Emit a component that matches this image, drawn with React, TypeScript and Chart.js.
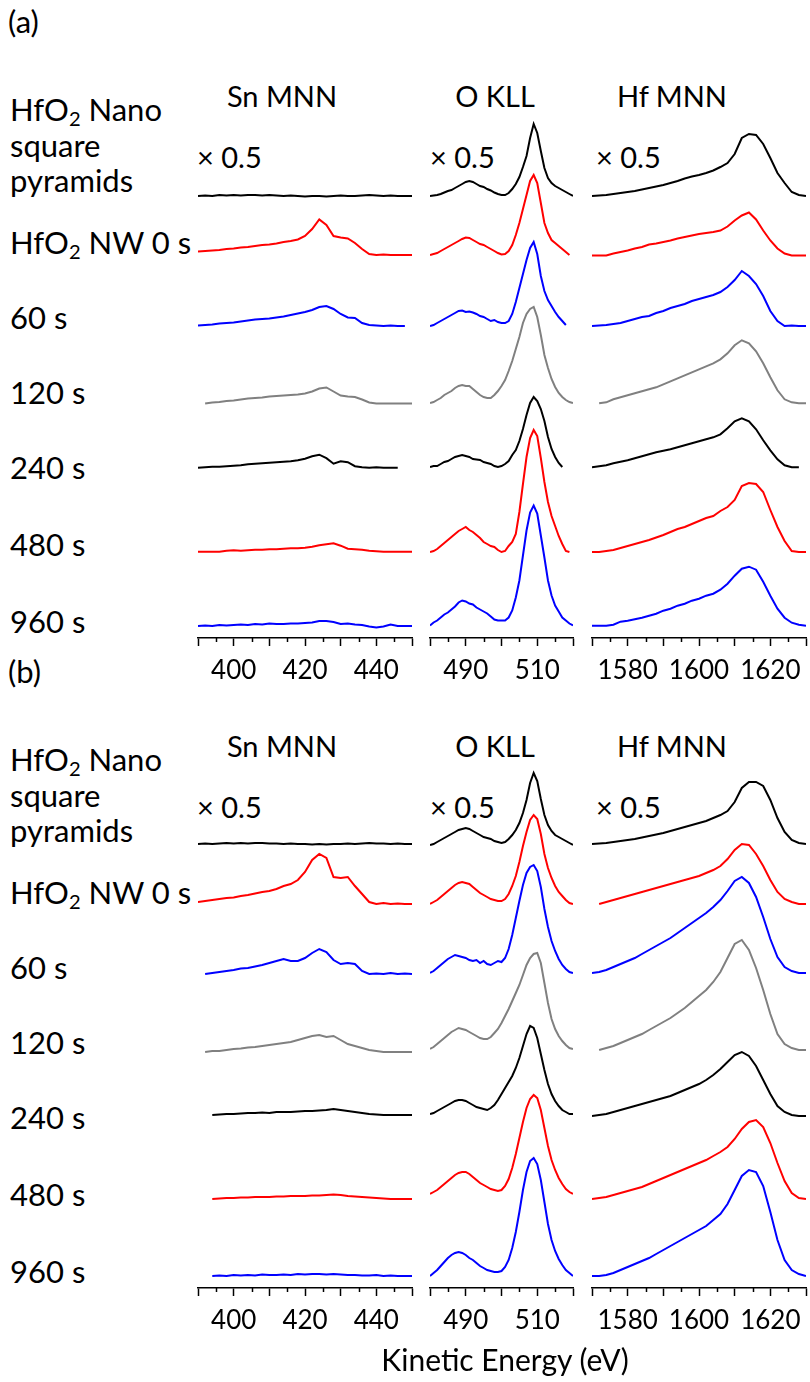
import React, { useEffect, useRef } from "react";
import { Chart, registerables } from "chart.js";
Chart.register(...registerables);

const FONT = "Lato, 'Open Sans', sans-serif";

// ---------- energies (eV) ----------
const snEnergy = [390,392,394,396,398,400,402,404,406,408,410,412,414,416,418,420,422,424,426,428,430,432,434,436,438,440,442,444,446,448,450];
const oEnergy = [480,481,482,483,484,485,486,487,488,489,490,491,492,493,494,495,496,497,498,499,500,501,502,503,504,505,506,507,508,509,510,511,512,513,514,515,516,517,518,519,520];
const hfEnergy = [1570,1572,1574,1576,1578,1580,1582,1584,1586,1588,1590,1592,1594,1596,1598,1600,1602,1604,1606,1608,1610,1612,1614,1616,1618,1620,1622,1624,1626,1628,1630];

// ---------- axes ----------
const snMajor = [390,400,410,420,430,440,450];
const snMinor = [395,405,415,425,435,445];
const snLabels = [400,420,440];
const oMajor = [480,490,500,510,520];
const oMinor = [485,495,505,515];
const oLabels = [490,510];
const hfMajor = [1570,1580,1590,1600,1610,1620,1630];
const hfMinor = [1575,1585,1595,1605,1615,1625];
const hfLabels = [1580,1600,1620];

const seriesNames = ["HfO2 Nano square pyramids","HfO2 NW 0 s","60 s","120 s","240 s","480 s","960 s"];
const seriesColors = ["#000000","#ff0000","#0000ff","#808080","#000000","#ff0000","#0000ff"];

// ---------- vertical stacking offsets (a.u.) ----------
const snOffsetA = [442,383,312,234.5,170.3,86.3,12];
const oOffsetA = [442,383,312,235,171,86,12.5];
const hfOffsetA = [442,382.5,312,234.7,170.7,86,12.3];
const snOffsetB = [444,384,314,236,173,89,12];
const oOffsetB = [443,384,315,239,174,94,12];
const hfOffsetB = [444,384,315,238,172,89,12];

// ---------- (a) Sn MNN ----------
const sn_a_pyr = [0,0.5,0,1,0.5,1,0.5,1,1,0.5,1,0.5,0,0.5,0,-0.5,0,0,-0.5,0,0.5,0,0,0.5,1,0.5,0,0.5,0,0,0];
const sn_a_0s = [3.5,4,4.5,5,6,6.5,7.5,8,9,10,10.5,11.5,13,14,15.5,19,26,35.5,30,19,17.5,16.5,12,6,1,0,0.5,0,0,0,0];
const sn_a_60s = [0.5,1,1.5,2.5,3,3.5,4.5,5.5,6.5,7,7.5,8.5,9.5,11,12.5,14,16,19,20,17,12,8.5,8,3,1,0.5,0,0.5,0,0,null];
const sn_a_120s = [null,0,1,1.5,2.5,3,4,5,5.5,6,7,7.5,8,8.5,9,10,12,15,16,12,8,7,6.5,4,1,0,0,0,0,0,0];
const sn_a_240s = [0,0.5,1,1,1.5,2,2.5,3.5,4,4.5,5,5.5,6,6.5,7.5,9,11.5,13,9.5,4,6.5,5.5,1.5,0.5,0,0.5,0,0,0,null,null];
const sn_a_480s = [0,0,0,0,1,1.5,1,1.5,2,2,2.5,2.5,3,3.5,3.5,4,5,6.5,7.5,8.5,6,3,2.5,2,1,0.5,0,0,0,0,0];
const sn_a_960s = [0,0.5,0,1,0.5,1,1.5,1,2,1.5,2.5,2,2,2.5,2.5,3,3.5,5,5,4,2,2.5,1.5,1,-0.5,-1.5,-0.5,1.5,0,0,0];

// ---------- (a) O KLL ----------
const o_a_pyr = [0,0.5,1,2,3.5,5,6,8,10,12,14,15,14,12,10,9,7,5.5,3.5,2,1,1,3,7,12,19,29,40,58,72,63,45,28,18,13,10,8,6,4,2,0];
const o_a_0s = [0,1,2,4,6,8,10,12,14,16,17.5,17,15,13,11,10,8,6,4,2,0.5,1,4,10,20,32,46,60,74,80,72,52,32,22,15,12,9,6,3,0,null];
const o_a_60s = [0,1,3,5,7,9,11,13,15,15.5,14,14.5,13.5,12,10,9,7,5,6,4,3,3,5,12,24,38,52,66,78,84,72,50,35,26,20,14,9,5,1,null,null];
const o_a_120s = [0,1,3,5,8,10,12,15,17,18,17,17,14,11,8,6,5,5,8,12,17,23,32,42,54,66,80,89,94,96,86,68,48,35,24,16,10,6,3,1,0];
const o_a_240s = [0,1,1,3,5,6,8,10,11,12,11,10,8,7.5,7,5,4,3,1,0,1,3,6,12,17,26,38,52,64,70,66,58,46,30,18,10,4,0,null,null,null];
const o_a_480s = [0,1,3,6,9,12,15,18,21,23,25,22,20,17,14,10,8,6,5,2,0,1,6,10,18,40,68,95,114,122,116,94,70,50,36,26,16,8,1,0,null];
const o_a_960s = [0,3,5,8,11,13,16,19,23,25,24,22,21,18,16,14,12,9,6,5,5,5,8,15,28,45,70,95,113,120,112,90,68,45,30,20,14,8,5,2,0];

// ---------- (a) Hf MNN ----------
const hf_a_pyr = [0,0.5,1,2,3,4,5,6.5,8,9.5,11,13,15,17.5,19.5,21,23,25.5,29,33,42,58,62,61,52,38,23,13,4,1,0];
const hf_a_0s = [0,0,0,2,3.5,5,7,8.5,11,12,13.5,15,17,18.5,20,21.5,22.5,23.5,25,29,35,40,43,36,25,15,7,2,0,0,0];
const hf_a_60s = [0,0.5,1,2,3,5,7,9,10,13,15,18,20,22,25,27,29,31,34,39,46,55,50,42,30,15,5,0,0.5,0,0];
const hf_a_120s = [null,0,1,4,6,8,10,12,14,16,19,22,25,28,31,34,37,40,44,50,58,63,60,52,40,26,13,4,1,0,0];
const hf_a_240s = [0,1,2,4,5.5,7,9,11,13,15,16.5,18,20,22,24,26,28,30,33,39,46,49,46,38,27,17,8,2,0,0,null];
const hf_a_480s = [0,0,1,2,4,6,8,10,12,14.5,17,20,23,25,28,31,34,36,41,45,52,66,69,68,60,42,25,11,1,0,0];
const hf_a_960s = [0,0,0,1,4,5,6.5,8,10,12,15,17,20,22,25,27,30,32,36,42,50,57,59,56,44,30,17,8,3,1,0];

// ---------- (b) Sn MNN ----------
const sn_b_pyr = [0,0.5,0,0.5,1,0.5,1,0.5,1,1,0.5,0.5,0,0.5,0,0,-0.5,0,-0.5,0,0,0.5,0,0.5,1,0.5,0.5,0,0.5,0,0];
const sn_b_0s = [2,3,4,5,6,6.5,8,9,10.5,12,13,15,18,20,24,32,44,50,46,27,26,27,18,10,2,0,1,0,0.5,0,0];
const sn_b_60s = [null,0,1,2,3,4,5.5,6,7.5,9,11,13,15,13,13,16,21,25,22,14,10,11,10,3,0,0.5,0,1,0,0.5,0];
const sn_b_120s = [null,0,1,1,2,3,3.5,4.5,5,6,7,8,9,10,12,14,16,17,15,16,12,8,6,4,2,1,0,0,0,0,0];
const sn_b_240s = [null,null,0,0.5,1,1,1.5,2,2,2.5,2,3,3,3,3.5,4,4,4.5,5,6,5,4,3,2,1,0.5,0,0,0,0,0];
const sn_b_480s = [null,null,0,0.5,1,1,1.5,1.5,2,2,2,2.5,2.5,3,3,3,3.5,3.5,4,4.5,4,3,2.5,2,1.5,1,0.5,0,0,0,0];
const sn_b_960s = [null,null,0,0.5,0,1,0.5,1,0.5,1.5,1,1,1.5,1,2,1.5,2,2,1.5,2,1.5,1,1,0.5,0.5,1,0,0.5,0,0,0];

// ---------- (b) O KLL ----------
const o_b_pyr = [0,1,3,5,7,9,11,13,15,16,17,16,14,12,10,8,7,6,4,3,2,3,6,10,15,22,32,45,62,72,64,46,30,20,14,10,8,6,4,2,0];
const o_b_0s = [0,2,4,7,10,13,16,19,21,22,21,20,17,14,11,9,7,5,4,3,3,5,10,18,28,42,58,72,84,89,85,70,50,36,26,18,12,8,4,1,0];
const o_b_60s = [0,2,5,8,11,14,16,18,17,16,15,13,12,13,10,12,9,8,10,12,11,15,24,38,55,72,88,100,106,108,102,86,64,46,32,22,14,8,4,1,0];
const o_b_120s = [0,2,5,8,11,14,17,19,21,20,19,17,15,13,11,10,10,12,16,20,26,33,40,48,56,64,74,84,91,95,96,86,66,46,30,20,13,8,4,1,0];
const o_b_240s = [0,1,3,5,7,9,11,13,14,14,13,11,9,7,6,5,4,6,9,14,20,26,32,38,46,56,68,80,88,86,76,60,44,30,20,13,8,4,2,0,0];
const o_b_480s = [0,2,4,7,10,13,16,19,21,22,22,20,17,14,11,9,7,5,4,3,4,8,15,26,40,56,72,86,95,99,96,84,66,48,34,24,16,10,5,2,0];
const o_b_960s = [0,3,6,10,14,18,21,23,24,23,21,18,16,13,10,8,6,5,4,4,5,9,16,28,44,64,86,104,115,118,112,96,74,52,36,25,17,11,6,3,0];

// ---------- (b) Hf MNN ----------
const hf_b_pyr = [0,0.5,1,2,3,4,5,6.5,8,9.5,11,13,15,17,19,21,23,26,29,33,42,56,62,62,58,44,26,12,4,1,0];
const hf_b_0s = [null,0,2,4,6,8,10,12,14,16,18,20,22,24,26,28,31,34,38,45,54,60,59,50,38,24,12,5,2,0,0];
const hf_b_60s = [0,1,3,6,9,12,15,19,23,27,31,35,40,45,50,55,60,66,73,82,92,96,90,76,56,34,16,6,2,0,0];
const hf_b_120s = [null,0,2,4,7,10,13,16,20,24,28,32,37,42,48,54,60,68,78,92,106,110,100,82,60,36,16,6,2,0,0];
const hf_b_240s = [0,1,2,4,6,8,10,12,14,16,18,20,23,26,29,32,36,41,47,54,61,64,60,50,36,22,10,4,1,0,0];
const hf_b_480s = [0,1,2,4,6,8,10,12,15,18,21,24,27,30,33,36,39,43,47,52,60,70,77,79,72,56,36,18,6,1,0];
const hf_b_960s = [0,0,1,3,6,9,12,15,18,22,26,30,34,38,42,46,50,56,62,72,86,100,106,104,90,64,36,16,6,2,0];

// ---------- layout ----------
const PANEL_DY = [0, 650];
const CHART_TOP = 100;
const PLOT_H = 538;
const AXIS_H = 56;
const PAD = 8;
const columns = [
  { key: "sn", left: 197, right: 413, min: 390, max: 450, major: snMajor, minor: snMinor, labels: snLabels, energy: snEnergy, title: "Sn MNN", titleX: 282, scaleX: 197 },
  { key: "o", left: 429, right: 574, min: 480, max: 520, major: oMajor, minor: oMinor, labels: oLabels, energy: oEnergy, title: "O KLL", titleX: 495, scaleX: 430 },
  { key: "hf", left: 591, right: 807, min: 1570, max: 1630, major: hfMajor, minor: hfMinor, labels: hfLabels, energy: hfEnergy, title: "Hf MNN", titleX: 672, scaleX: 596 },
];

const panelSeries: Record<string, any[][]> = {
  "a-sn": [sn_a_pyr, sn_a_0s, sn_a_60s, sn_a_120s, sn_a_240s, sn_a_480s, sn_a_960s],
  "a-o": [o_a_pyr, o_a_0s, o_a_60s, o_a_120s, o_a_240s, o_a_480s, o_a_960s],
  "a-hf": [hf_a_pyr, hf_a_0s, hf_a_60s, hf_a_120s, hf_a_240s, hf_a_480s, hf_a_960s],
  "b-sn": [sn_b_pyr, sn_b_0s, sn_b_60s, sn_b_120s, sn_b_240s, sn_b_480s, sn_b_960s],
  "b-o": [o_b_pyr, o_b_0s, o_b_60s, o_b_120s, o_b_240s, o_b_480s, o_b_960s],
  "b-hf": [hf_b_pyr, hf_b_0s, hf_b_60s, hf_b_120s, hf_b_240s, hf_b_480s, hf_b_960s],
};
const panelOffsets: Record<string, number[]> = {
  "a-sn": snOffsetA, "a-o": oOffsetA, "a-hf": hfOffsetA,
  "b-sn": snOffsetB, "b-o": oOffsetB, "b-hf": hfOffsetB,
};

const minorTickPlugin = {
  id: "minorTicks",
  afterDraw(chart: any, _args: any, opts: any) {
    const x = chart.scales.x;
    const ctx = chart.ctx;
    const bottom = chart.chartArea.bottom;
    ctx.save();
    ctx.strokeStyle = "#000";
    ctx.lineWidth = 1.5;
    for (const v of opts.values || []) {
      const px = Math.round(x.getPixelForValue(v)) + 0.5;
      ctx.beginPath();
      ctx.moveTo(px, bottom);
      ctx.lineTo(px, bottom + 4);
      ctx.stroke();
    }
    ctx.restore();
  },
};

function SpectraChart({ col, panelKey, top }: { col: any; panelKey: string; top: number }) {
  const ref = useRef<HTMLCanvasElement | null>(null);
  const width = col.right - col.left + 2 * PAD;
  const height = PLOT_H + AXIS_H;
  useEffect(() => {
    if (!ref.current) return;
    const series = panelSeries[panelKey];
    const offsets = panelOffsets[panelKey];
    const datasets = series.map((vals, i) => ({
      label: seriesNames[i],
      data: col.energy.map((e: number, j: number) => ({ x: e, y: vals[j] == null ? null : vals[j] + offsets[i] })),
      borderColor: seriesColors[i],
      backgroundColor: seriesColors[i],
      borderWidth: 2,
      pointRadius: 0,
      tension: 0,
      fill: false,
      spanGaps: false,
    }));
    const chart = new Chart(ref.current, {
      type: "line",
      data: { datasets },
      options: {
        animation: false,
        responsive: false,
        maintainAspectRatio: false,
        layout: { padding: { left: PAD, right: PAD, top: 0, bottom: 0 } },
        plugins: { legend: { display: false }, tooltip: { enabled: false }, minorTicks: { values: col.minor } } as any,
        scales: {
          x: {
            type: "linear",
            min: col.min,
            max: col.max,
            grid: { display: true, drawOnChartArea: false, drawTicks: true, tickLength: 8, tickColor: "#000", tickWidth: 1.5 },
            border: { display: true, color: "#000", width: 1.5 },
            ticks: {
              autoSkip: false,
              maxRotation: 0,
              color: "#000",
              padding: 9,
              font: { family: FONT, size: 26 },
              callback: (v: any) => (col.labels.includes(Number(v)) ? String(v) : ""),
            },
            afterBuildTicks: (s: any) => {
              s.ticks = col.major.map((v: number) => ({ value: v }));
            },
            afterFit: (s: any) => {
              s.height = AXIS_H;
            },
          },
          y: { display: false, min: 0, max: PLOT_H },
        },
      },
      plugins: [minorTickPlugin],
    } as any);
    return () => chart.destroy();
  }, [col, panelKey]);
  return (
    <canvas
      ref={ref}
      width={width}
      height={height}
      style={{ position: "absolute", left: col.left - PAD, top: top + CHART_TOP, width, height }}
    />
  );
}

function Txt({ x, cy, size = 29, children, center = false }: any) {
  return (
    <div
      style={{
        position: "absolute",
        left: x,
        top: cy - size * 0.53,
        fontFamily: FONT,
        fontSize: size,
        lineHeight: 1,
        whiteSpace: "nowrap",
        color: "#000",
        transform: center ? "translateX(-50%)" : undefined,
      }}
    >
      {children}
    </div>
  );
}

const Sub2 = () => <sub style={{ fontSize: "65%", verticalAlign: "-0.25em", lineHeight: 0 }}>2</sub>;

const leftLabelY = [110, 146, 181, 243, 318, 393, 468, 545, 622];
const LEFT_SIZE = 31;

function Panel({ tag, dy }: { tag: string; dy: number }) {
  const key = tag === "(a)" ? "a" : "b";
  return (
    <>
      <Txt x={8} cy={dy + 22} size={31}>{tag}</Txt>
      <Txt x={10} cy={dy + leftLabelY[0]} size={LEFT_SIZE}>HfO<Sub2 /> Nano</Txt>
      <Txt x={10} cy={dy + leftLabelY[1]} size={LEFT_SIZE}>square</Txt>
      <Txt x={10} cy={dy + leftLabelY[2]} size={LEFT_SIZE}>pyramids</Txt>
      <Txt x={10} cy={dy + leftLabelY[3]} size={LEFT_SIZE}>HfO<Sub2 /> NW 0 s</Txt>
      <Txt x={10} cy={dy + leftLabelY[4]} size={LEFT_SIZE}>60 s</Txt>
      <Txt x={10} cy={dy + leftLabelY[5]} size={LEFT_SIZE}>120 s</Txt>
      <Txt x={10} cy={dy + leftLabelY[6]} size={LEFT_SIZE}>240 s</Txt>
      <Txt x={10} cy={dy + leftLabelY[7]} size={LEFT_SIZE}>480 s</Txt>
      <Txt x={10} cy={dy + leftLabelY[8]} size={LEFT_SIZE}>960 s</Txt>
      {columns.map((c) => (
        <React.Fragment key={c.key}>
          <Txt x={c.titleX} cy={dy + 96} center>{c.title}</Txt>
          <Txt x={c.scaleX} cy={dy + 157}>× 0.5</Txt>
          <SpectraChart col={c} panelKey={`${key}-${c.key}`} top={dy} />
        </React.Fragment>
      ))}
    </>
  );
}

export default function App() {
  return (
    <div style={{ position: "absolute", left: 0, top: 0, width: 810, height: 1382, overflow: "hidden", background: "#fff" }}>
      <Panel tag="(a)" dy={PANEL_DY[0]} />
      <Panel tag="(b)" dy={PANEL_DY[1]} />
      <Txt x={505} cy={1360} size={30} center>Kinetic Energy (eV)</Txt>
    </div>
  );
}
